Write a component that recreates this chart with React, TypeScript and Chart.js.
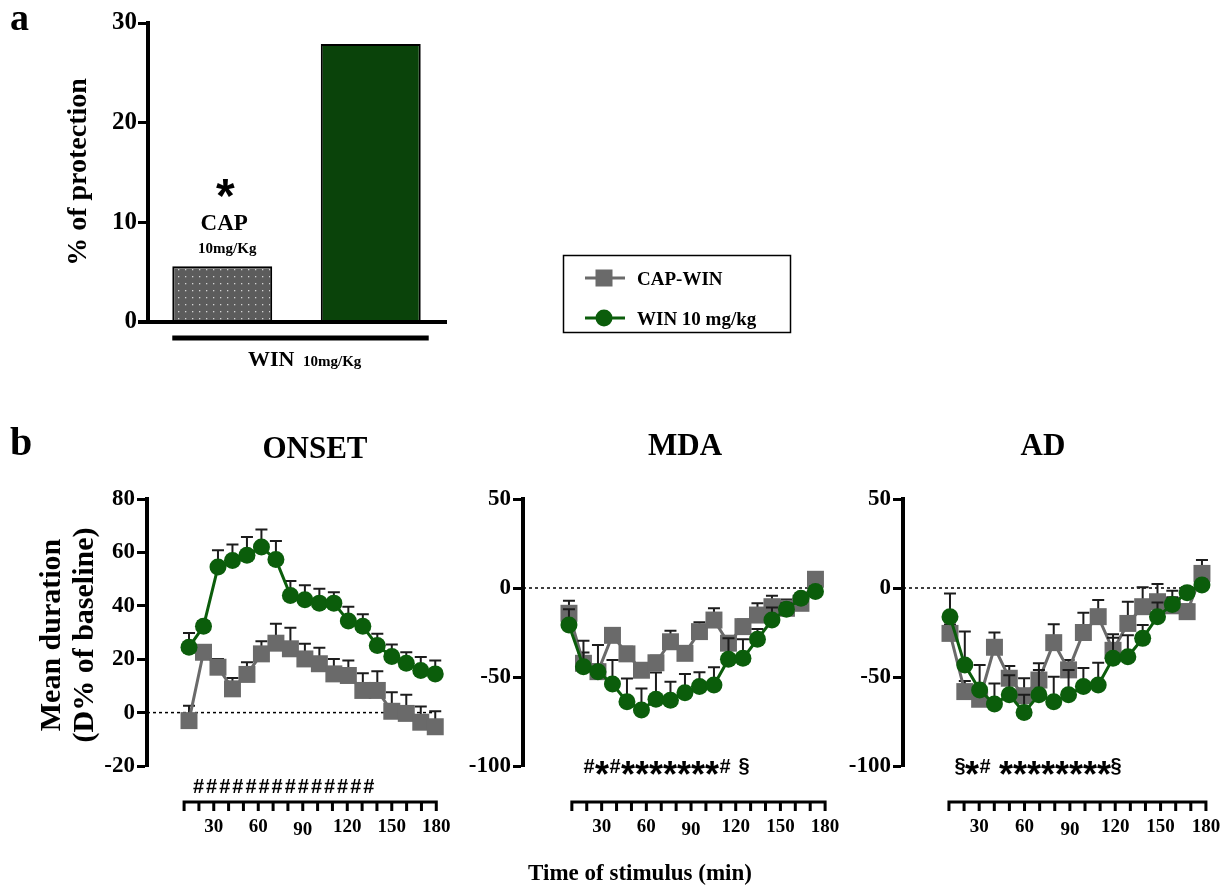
import React, { useEffect, useRef } from 'react';
import { Chart, registerables } from 'chart.js';

Chart.register(...registerables);

// ---------------- data ----------------
const protectionGroups = ['CAP 10mg/Kg + WIN 10mg/Kg', 'WIN 10mg/Kg'];
const protectionValues = [5.6, 27.9];

const timePoints = [10, 20, 30, 40, 50, 60, 70, 80, 90, 100, 110, 120, 130, 140, 150, 160, 170, 180];
const rulerTickValues = [10, 20, 30, 40, 50, 60, 70, 80, 90, 100, 110, 120, 130, 140, 150, 160, 170, 180];
const rulerLabelValues = [30, 60, 90, 120, 150, 180];

const onsetWin = [24.5, 32.3, 54.5, 57.0, 58.9, 62.0, 57.3, 43.9, 42.3, 41.0, 41.0, 34.3, 32.3, 25.1, 21.0, 18.5, 15.8, 14.5];
const onsetWinErr = [5.3, 2.0, 6.3, 6.0, 6.9, 6.6, 7.0, 5.4, 5.4, 5.4, 4.1, 5.3, 4.5, 4.4, 4.5, 4.1, 5.0, 5.0];
const onsetCapWin = [-3.0, 22.6, 17.0, 8.9, 14.3, 22.0, 26.0, 23.9, 20.1, 18.3, 14.5, 13.9, 8.3, 8.3, 0.5, -0.3, -3.6, -5.3];
const onsetCapWinErr = [5.6, 2.0, 3.1, 4.1, 4.6, 4.7, 7.3, 7.9, 5.7, 6.0, 5.6, 5.6, 6.4, 7.2, 7.1, 7.0, 5.9, 5.8];

const mdaWin = [-20.8, -44.2, -47.0, -53.9, -63.9, -68.5, -62.5, -63.0, -58.8, -55.4, -54.5, -40.0, -39.5, -28.8, -18.0, -12.0, -5.8, -2.0];
const mdaWinErr = [8.8, 14.6, 15.0, 13.5, 13.0, 12.0, 15.0, 10.4, 10.5, 8.0, 10.0, 11.7, 10.7, 5.8, 7.0, 3.5, 3.0, 3.0];
const mdaCapWin = [-14.2, -42.3, -47.0, -26.6, -37.0, -46.2, -42.0, -30.2, -36.7, -24.5, -18.0, -31.0, -21.7, -15.2, -10.5, -11.4, -8.6, 4.9];
const mdaCapWinErr = [7.1, 6.0, 4.0, 4.0, 4.0, 4.0, 4.0, 6.2, 4.0, 5.2, 6.6, 4.0, 4.0, 6.6, 6.2, 5.0, 3.0, 3.0];

const adWin = [-16.1, -43.3, -57.3, -65.2, -60.0, -70.0, -60.0, -63.9, -60.0, -55.4, -54.5, -39.5, -38.6, -28.3, -16.1, -9.2, -2.6, 1.7];
const adWinErr = [13.0, 18.8, 14.0, 11.6, 11.0, 10.0, 14.0, 14.0, 14.0, 10.4, 12.5, 11.5, 12.0, 7.5, 8.0, 4.0, 3.0, 3.0];
const adCapWin = [-25.5, -58.2, -62.5, -33.3, -50.7, -60.5, -51.7, -30.7, -46.0, -25.0, -16.1, -35.0, -19.9, -10.5, -7.7, -10.0, -13.3, 8.2];
const adCapWinErr = [5.0, 6.0, 5.0, 8.3, 6.9, 9.8, 9.4, 10.3, 5.5, 11.1, 9.4, 9.0, 12.2, 10.9, 9.9, 8.5, 4.0, 7.5];

const onsetAnnotation = '##############';
const mdaAnnotation = '#*#*******# §';
const adAnnotation = '§*# ********§';

// ---------------- style ----------------
const SERIF = '"Liberation Serif", "Times New Roman", serif';
const SANS = '"Liberation Sans", Arial, sans-serif';
const GRAY = '#6a6a6a';
const GREEN = '#0b5d0b';
const BAR_GREEN = '#0a430a';
const ERR_COLOR = '#1c1c1c';

function text(ctx: CanvasRenderingContext2D, s: string, x: number, y: number, size: number, align: CanvasTextAlign = 'left', family = SERIF) {
  ctx.font = `bold ${size}px ${family}`;
  ctx.textAlign = align;
  ctx.textBaseline = 'alphabetic';
  ctx.fillStyle = '#000';
  ctx.fillText(s, x, y);
}

function vtext(ctx: CanvasRenderingContext2D, s: string, x: number, y: number, size: number) {
  ctx.save();
  ctx.translate(x, y);
  ctx.rotate(-Math.PI / 2);
  ctx.font = `bold ${size}px ${SERIF}`;
  ctx.textAlign = 'center';
  ctx.textBaseline = 'middle';
  ctx.fillStyle = '#000';
  ctx.fillText(s, 0, 0);
  ctx.restore();
}

function drawMarks(ctx: CanvasRenderingContext2D, s: string, x0: number, yc: number, hashW: number) {
  let x = x0;
  ctx.fillStyle = '#000';
  ctx.textAlign = 'center';
  ctx.textBaseline = 'alphabetic';
  for (const ch of s) {
    let w = 8;
    let font = '';
    let dy = 0;
    if (ch === '*') { w = 14; font = `bold 36px ${SANS}`; dy = 21; }
    else if (ch === '#') { w = hashW; font = `bold 20px ${SANS}`; dy = 7; }
    else if (ch === '§') { w = 10; font = `bold 20px ${SANS}`; dy = 6; }
    if (font) {
      ctx.font = font;
      ctx.fillText(ch, x + w / 2, yc + dy);
    }
    x += w;
  }
}

// ---------------- panel a ----------------
function PanelA() {
  const ref = useRef<HTMLCanvasElement>(null);
  useEffect(() => {
    const canvas = ref.current!;
    const tile = document.createElement('canvas');
    tile.width = 7;
    tile.height = 7;
    const tctx = tile.getContext('2d')!;
    tctx.fillStyle = '#5c5c5c';
    tctx.fillRect(0, 0, 7, 7);
    tctx.fillStyle = '#d4d4d4';
    tctx.fillRect(3, 3, 1.3, 1.3);
    const pattern = canvas.getContext('2d')!.createPattern(tile, 'repeat');

    const deco = {
      id: 'decoA',
      afterDatasetsDraw(chart: any) {
        const ctx = chart.ctx as CanvasRenderingContext2D;
        const area = chart.chartArea;
        const ys = chart.scales.y;
        const y0 = ys.getPixelForValue(0);
        const bars = chart.getDatasetMeta(0).data as any[];
        ctx.save();
        ctx.strokeStyle = '#000';
        ctx.lineWidth = 4;
        ctx.beginPath();
        ctx.moveTo(area.left - 10, y0);
        ctx.lineTo(area.right + 2, y0);
        ctx.stroke();
        // bracket under bars
        const bl = bars[0].x - bars[0].width / 2;
        const br = bars[1].x + bars[1].width / 2 + 8;
        ctx.lineWidth = 5;
        ctx.beginPath();
        ctx.moveTo(bl, y0 + 16);
        ctx.lineTo(br, y0 + 16);
        ctx.stroke();
        text(ctx, 'WIN', 248, 366, 22);
        text(ctx, '10mg/Kg', 303, 366, 15);
        // labels over the first bar
        const cx = bars[0].x;
        text(ctx, '*', cx + 3, 212, 48, 'center', SANS);
        text(ctx, 'CAP', cx + 2, 230, 23, 'center');
        text(ctx, '10mg/Kg', cx + 5, 253, 15, 'center');
        // panel letter & y title
        text(ctx, 'a', 10, 30, 38);
        vtext(ctx, '% of protection', 79, 172, 28);
        // legend
        ctx.lineWidth = 1.5;
        ctx.strokeRect(563.5, 255.5, 227, 77);
        ctx.lineWidth = 3;
        ctx.strokeStyle = GRAY;
        ctx.beginPath();
        ctx.moveTo(585, 278);
        ctx.lineTo(625, 278);
        ctx.stroke();
        ctx.fillStyle = GRAY;
        ctx.fillRect(595.5, 269.5, 17, 17);
        ctx.strokeStyle = GREEN;
        ctx.beginPath();
        ctx.moveTo(585, 318);
        ctx.lineTo(625, 318);
        ctx.stroke();
        ctx.fillStyle = GREEN;
        ctx.beginPath();
        ctx.arc(604, 318, 8.5, 0, Math.PI * 2);
        ctx.fill();
        text(ctx, 'CAP-WIN', 637, 285, 19);
        text(ctx, 'WIN 10 mg/kg', 637, 325, 19);
        ctx.restore();
      },
    };

    const chart = new Chart(canvas, {
      type: 'bar',
      data: {
        labels: protectionGroups,
        datasets: [
          {
            data: protectionValues,
            backgroundColor: [pattern as any, BAR_GREEN],
            borderColor: '#000',
            borderWidth: 2,
            barPercentage: 0.673,
            categoryPercentage: 1,
          },
        ],
      },
      options: {
        responsive: false,
        animation: false,
        events: [],
        layout: { padding: { left: 0, right: 800 - 445, top: 23, bottom: 390 - 322 } },
        plugins: { legend: { display: false }, tooltip: { enabled: false } },
        scales: {
          x: { display: false },
          y: {
            min: 0,
            max: 30,
            ticks: { stepSize: 10, color: '#000', font: { family: SERIF, weight: 'bold', size: 25 }, padding: 1 },
            grid: { drawOnChartArea: false, tickLength: 10, tickWidth: 3, tickColor: '#000' },
            border: { color: '#000', width: 4 },
            afterFit: (s: any) => { s.width = 148; },
          },
        },
      } as any,
      plugins: [deco],
    });
    return () => chart.destroy();
  }, []);
  return <canvas ref={ref} width={800} height={390} style={{ position: 'absolute', left: 0, top: 0 }} />;
}

// ---------------- panel b ----------------
const TOP = 400;
const H = 488;
const AREA_TOP = 99;
const AREA_BOTTOM = 366;

type PanelProps = {
  left: number;
  width: number;
  yWidth: number;
  padRight: number;
  yMin: number;
  yMax: number;
  yStep: number;
  xMin: number;
  xMax: number;
  rMin: number;
  rMax: number;
  capWin: number[];
  capWinErr: number[];
  win: number[];
  winErr: number[];
  decorate: (ctx: CanvasRenderingContext2D) => void;
};

function TimeCourse(p: PanelProps) {
  const ref = useRef<HTMLCanvasElement>(null);
  useEffect(() => {
    const canvas = ref.current!;
    const plugin = {
      id: 'timecourse',
      beforeDatasetsDraw(chart: any) {
        const ctx = chart.ctx as CanvasRenderingContext2D;
        const y0 = chart.scales.y.getPixelForValue(0);
        const xs = chart.scales.x;
        ctx.save();
        ctx.strokeStyle = '#000';
        ctx.lineWidth = 1.5;
        ctx.setLineDash([3, 3]);
        ctx.beginPath();
        ctx.moveTo(chart.chartArea.left, y0);
        ctx.lineTo(xs.getPixelForValue(timePoints[timePoints.length - 1]), y0);
        ctx.stroke();
        ctx.restore();
      },
      beforeDatasetDraw(chart: any, args: any) {
        const ds = chart.data.datasets[args.index];
        const errs: number[] = ds.errors;
        const ctx = chart.ctx as CanvasRenderingContext2D;
        const xs = chart.scales.x;
        const ys = chart.scales.y;
        ctx.save();
        ctx.strokeStyle = ERR_COLOR;
        ctx.lineWidth = 2;
        ds.data.forEach((pt: any, i: number) => {
          const x = xs.getPixelForValue(pt.x);
          const y0 = ys.getPixelForValue(pt.y);
          const y1 = ys.getPixelForValue(pt.y + errs[i]);
          ctx.beginPath();
          ctx.moveTo(x, y0);
          ctx.lineTo(x, y1);
          ctx.moveTo(x - 6, y1);
          ctx.lineTo(x + 6, y1);
          ctx.stroke();
        });
        ctx.restore();
      },
      afterDraw(chart: any) {
        const ctx = chart.ctx as CanvasRenderingContext2D;
        const rs = chart.scales.xr;
        const yR = chart.chartArea.bottom + 36;
        ctx.save();
        ctx.strokeStyle = '#000';
        ctx.lineWidth = 3;
        ctx.beginPath();
        ctx.moveTo(rs.getPixelForValue(rulerTickValues[0]) - 1.5, yR);
        ctx.lineTo(rs.getPixelForValue(rulerTickValues[rulerTickValues.length - 1]) + 1.5, yR);
        for (const v of rulerTickValues) {
          const x = rs.getPixelForValue(v);
          ctx.moveTo(x, yR);
          ctx.lineTo(x, yR + 9);
        }
        ctx.stroke();
        for (const v of rulerLabelValues) {
          text(ctx, String(v), rs.getPixelForValue(v), yR + 30 + (v === 90 ? 3 : 0), 19, 'center');
        }
        ctx.translate(-p.left, -TOP);
        p.decorate(ctx);
        ctx.restore();
      },
    };

    const chart = new Chart(canvas, {
      type: 'line',
      data: {
        datasets: [
          {
            label: 'CAP-WIN',
            data: timePoints.map((t, i) => ({ x: t, y: p.capWin[i] })),
            errors: p.capWinErr,
            borderColor: GRAY,
            backgroundColor: GRAY,
            borderWidth: 3,
            pointStyle: 'rect',
            pointRadius: 12,
            pointBorderWidth: 0,
            pointBackgroundColor: GRAY,
            order: 2,
            clip: false,
          },
          {
            label: 'WIN 10 mg/kg',
            data: timePoints.map((t, i) => ({ x: t, y: p.win[i] })),
            errors: p.winErr,
            borderColor: GREEN,
            backgroundColor: GREEN,
            borderWidth: 3,
            pointStyle: 'circle',
            pointRadius: 8.5,
            pointBorderWidth: 0,
            pointBackgroundColor: GREEN,
            order: 1,
            clip: false,
          },
        ] as any,
      },
      options: {
        responsive: false,
        animation: false,
        events: [],
        layout: { padding: { left: 0, right: p.padRight, top: AREA_TOP, bottom: H - AREA_BOTTOM } },
        plugins: { legend: { display: false }, tooltip: { enabled: false } },
        scales: {
          x: { type: 'linear', min: p.xMin, max: p.xMax, display: false },
          xr: { type: 'linear', axis: 'x', position: 'bottom', min: p.rMin, max: p.rMax, display: false },
          y: {
            type: 'linear',
            min: p.yMin,
            max: p.yMax,
            ticks: { stepSize: p.yStep, color: '#000', font: { family: SERIF, weight: 'bold', size: 23 }, padding: 2 },
            grid: { drawOnChartArea: false, tickLength: 10, tickWidth: 3, tickColor: '#000' },
            border: { color: '#000', width: 4 },
            afterFit: (s: any) => { s.width = p.yWidth; },
          },
        },
      } as any,
      plugins: [plugin],
    });
    return () => chart.destroy();
  }, []);
  return <canvas ref={ref} width={p.width} height={H} style={{ position: 'absolute', left: p.left, top: TOP }} />;
}

export default function App() {
  return (
    <div style={{ position: 'absolute', left: 0, top: 0, width: 1232, height: 888, overflow: 'hidden', background: '#fff' }}>
      <PanelA />
      <TimeCourse
        left={0}
        width={460}
        yWidth={147}
        padRight={5}
        yMin={-20}
        yMax={80}
        yStep={20}
        xMin={-19.0}
        xMax={188.8}
        rMin={-15.0}
        rMax={187.9}
        capWin={onsetCapWin}
        capWinErr={onsetCapWinErr}
        win={onsetWin}
        winErr={onsetWinErr}
        decorate={(ctx) => {
          text(ctx, 'b', 10, 455, 40);
          text(ctx, 'ONSET', 315, 458, 31, 'center');
          vtext(ctx, 'Mean duration', 52, 635, 30);
          vtext(ctx, '(D% of baseline)', 85, 635, 30);
          drawMarks(ctx, onsetAnnotation, 192, 786, 13.1);
        }}
      />
      <TimeCourse
        left={460}
        width={385}
        yWidth={63}
        padRight={5}
        yMin={-100}
        yMax={50}
        yStep={50}
        xMin={-21.7}
        xMax={192.1}
        rMin={-22.8}
        rMax={185.3}
        capWin={mdaCapWin}
        capWinErr={mdaCapWinErr}
        win={mdaWin}
        winErr={mdaWinErr}
        decorate={(ctx) => {
          text(ctx, 'MDA', 685, 455, 31, 'center');
          drawMarks(ctx, mdaAnnotation, 583, 766, 12);
          text(ctx, 'Time of stimulus (min)', 640, 880, 23, 'center');
        }}
      />
      <TimeCourse
        left={845}
        width={387}
        yWidth={58}
        padRight={17}
        yMin={-100}
        yMax={50}
        yStep={50}
        xMin={-21.7}
        xMax={188.8}
        rMin={-20.4}
        rMax={186.0}
        capWin={adCapWin}
        capWinErr={adCapWinErr}
        win={adWin}
        winErr={adWinErr}
        decorate={(ctx) => {
          text(ctx, 'AD', 1043, 455, 31, 'center');
          drawMarks(ctx, adAnnotation, 955, 766, 12);
        }}
      />
    </div>
  );
}
